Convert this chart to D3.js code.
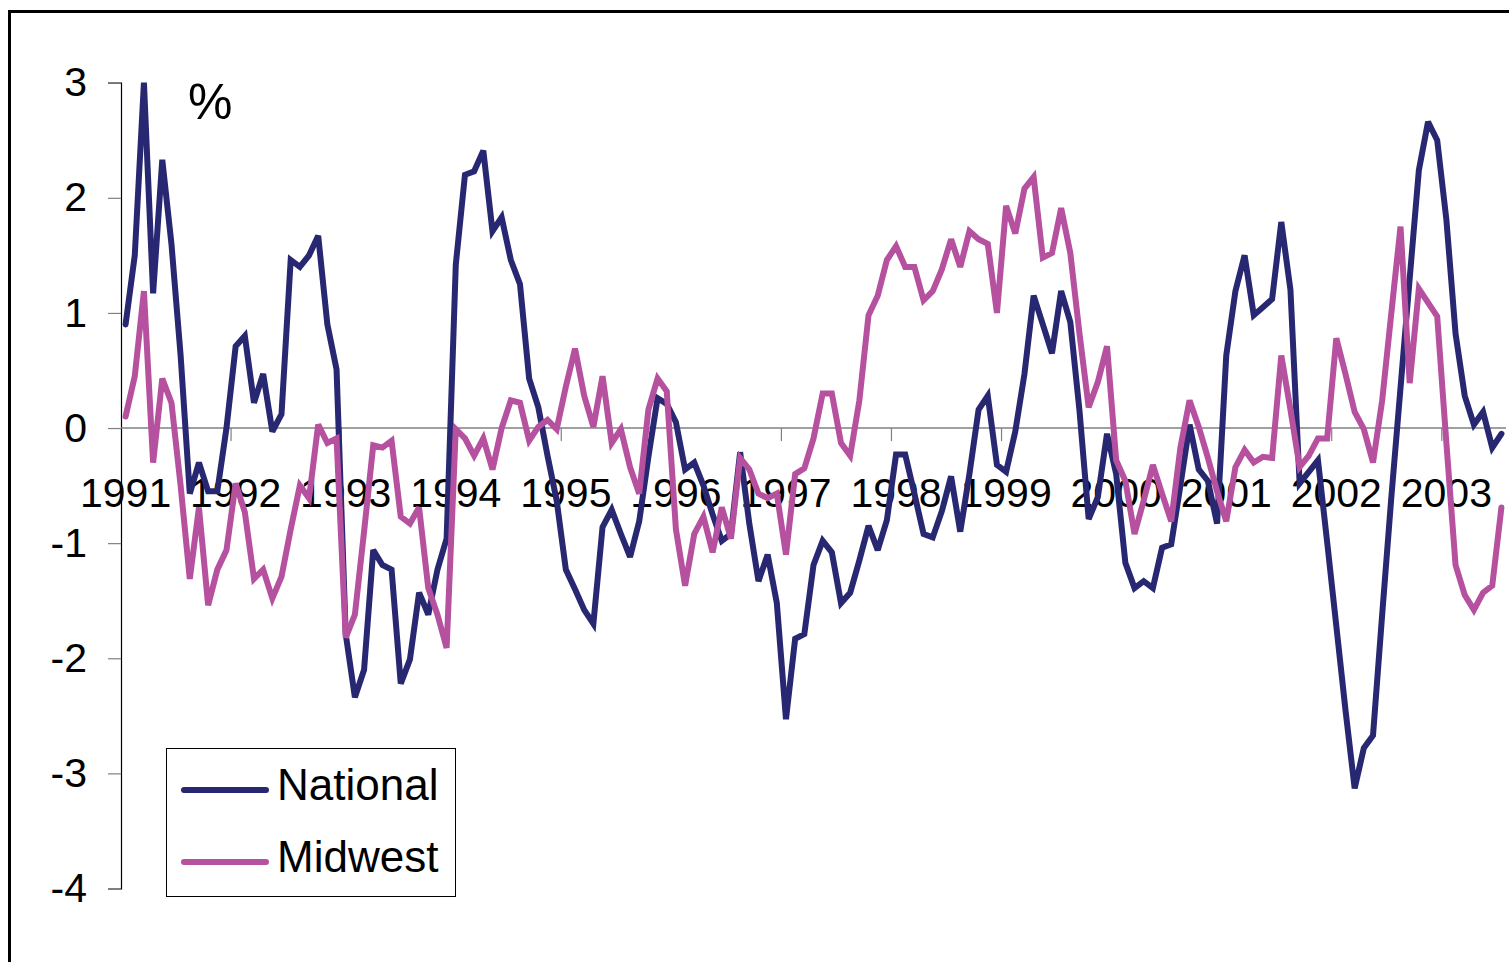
<!DOCTYPE html>
<html>
<head>
<meta charset="utf-8">
<script src="https://cdn.jsdelivr.net/npm/d3@7"></script>
<style>
  html, body { margin: 0; padding: 0; background: #fff; }
  svg { display: block; font-family: "Liberation Sans", Arial, sans-serif; }
</style>
</head>
<body>
<svg id="chart" width="1509" height="962"></svg>
<script>
// Monthly percentage change, January 1991 through July 2003
const yearLabels = ["1991","1992","1993","1994","1995","1996","1997","1998","1999","2000","2001","2002","2003"];
const monthCount = 151;
const months = d3.range(monthCount).map(i => `${1991 + Math.floor(i / 12)}-${String(i % 12 + 1).padStart(2, "0")}`);

const national = [
  0.90, 1.50, 3.00, 1.17, 2.33, 1.60, 0.63, -0.57, -0.30, -0.55, -0.55, 0.00,
  0.71, 0.80, 0.22, 0.47, -0.03, 0.12, 1.46, 1.40, 1.50, 1.67, 0.90, 0.51,
  -1.79, -2.34, -2.10, -1.06, -1.19, -1.23, -2.22, -2.01, -1.43, -1.62, -1.23, -0.96,
  1.42, 2.20, 2.23, 2.41, 1.71, 1.83, 1.46, 1.25, 0.43, 0.18, -0.24, -0.63,
  -1.23, -1.40, -1.58, -1.70, -0.86, -0.71, -0.92, -1.12, -0.81, -0.25, 0.26, 0.21,
  0.05, -0.36, -0.30, -0.50, -0.75, -0.98, -0.92, -0.21, -0.83, -1.33, -1.10, -1.52,
  -2.53, -1.83, -1.79, -1.19, -0.98, -1.08, -1.52, -1.43, -1.15, -0.85, -1.06, -0.80,
  -0.23, -0.23, -0.57, -0.92, -0.95, -0.72, -0.42, -0.90, -0.40, 0.16, 0.28, -0.32,
  -0.38, -0.03, 0.47, 1.15, 0.90, 0.65, 1.19, 0.92, 0.15, -0.79, -0.60, -0.05,
  -0.40, -1.17, -1.39, -1.33, -1.39, -1.04, -1.01, -0.50, 0.03, -0.36, -0.46, -0.83,
  0.63, 1.19, 1.50, 0.98, 1.05, 1.12, 1.79, 1.20, -0.48, -0.38, -0.28, -0.99,
  -1.72, -2.45, -3.13, -2.78, -2.67, -1.62, -0.60, 0.35, 1.30, 2.24, 2.66, 2.50,
  1.81, 0.82, 0.28, 0.03, 0.14, -0.17, -0.05
];

const midwest = [
  0.10, 0.45, 1.19, -0.30, 0.43, 0.22, -0.50, -1.31, -0.69, -1.54, -1.23, -1.06,
  -0.48, -0.73, -1.31, -1.23, -1.48, -1.29, -0.88, -0.50, -0.61, 0.03, -0.13, -0.09,
  -1.82, -1.62, -0.90, -0.15, -0.17, -0.11, -0.77, -0.83, -0.69, -1.39, -1.62, -1.91,
  -0.01, -0.09, -0.24, -0.09, -0.36, 0.00, 0.24, 0.22, -0.11, 0.01, 0.07, -0.01,
  0.36, 0.69, 0.28, 0.01, 0.45, -0.13, -0.01, -0.34, -0.57, 0.16, 0.43, 0.32,
  -0.88, -1.37, -0.92, -0.77, -1.08, -0.69, -0.96, -0.26, -0.36, -0.57, -0.61, -0.57,
  -1.10, -0.40, -0.35, -0.09, 0.30, 0.30, -0.13, -0.24, 0.24, 0.98, 1.15, 1.46,
  1.58, 1.40, 1.40, 1.11, 1.19, 1.38, 1.64, 1.40, 1.71, 1.64, 1.60, 1.00,
  1.93, 1.69, 2.08, 2.18, 1.48, 1.52, 1.91, 1.52, 0.82, 0.18, 0.40, 0.71,
  -0.28, -0.46, -0.92, -0.63, -0.32, -0.57, -0.81, -0.17, 0.24, 0.01, -0.26, -0.55,
  -0.81, -0.34, -0.19, -0.30, -0.25, -0.26, 0.63, 0.16, -0.34, -0.24, -0.09, -0.09,
  0.78, 0.47, 0.14, -0.01, -0.30, 0.24, 1.00, 1.75, 0.39, 1.21, 1.09, 0.97,
  -0.13, -1.19, -1.45, -1.58, -1.43, -1.37, -0.69
];

const yTicks = [3, 2, 1, 0, -1, -2, -3, -4];
const seriesNames = ["National", "Midwest"];
const seriesColors = ["#272871", "#b5519e"];

const svg = d3.select("#chart");

// outer chart frame (runs past the right and bottom edges)
svg.append("rect")
  .attr("x", 9.5).attr("y", 11.5)
  .attr("width", 1540).attr("height", 1000)
  .attr("fill", "#fff").attr("stroke", "#000").attr("stroke-width", 3);

const x = d3.scaleBand().domain(months).range([121, 1506]).paddingInner(0).paddingOuter(0);
const y = d3.scaleLinear().domain([-4, 3]).range([888.5, 82.7]);
const cx = m => x(m) + x.bandwidth() / 2;

// y axis
const yAxis = svg.append("g")
  .attr("transform", "translate(121,0)")
  .call(d3.axisLeft(y).tickValues(yTicks).tickSize(13).tickPadding(21).tickFormat(d3.format("d")));
yAxis.select(".domain").attr("stroke", "#000").attr("stroke-width", 1.2);
yAxis.selectAll(".tick line").attr("stroke", "#808080").attr("stroke-width", 1.2);
yAxis.selectAll(".tick text")
  .attr("font-size", 41).attr("fill", "#000")
  .attr("font-family", "Liberation Sans, Arial, sans-serif")
  .text(d => d < 0 ? "-" + Math.abs(d) : d);

// zero line with year boundary ticks
const y0 = y(0);
svg.append("line")
  .attr("x1", 121).attr("x2", 1506)
  .attr("y1", y0).attr("y2", y0)
  .attr("stroke", "#808080").attr("stroke-width", 1.5);

const boundaries = d3.range(12, monthCount, 12).map(i => x(months[i]));
svg.selectAll(".xtick").data(boundaries).enter().append("line")
  .attr("class", "xtick")
  .attr("x1", d => d).attr("x2", d => d)
  .attr("y1", y0).attr("y2", y0 + 13)
  .attr("stroke", "#808080").attr("stroke-width", 1.2);

// year labels centred on each January
svg.selectAll(".xlabel").data(yearLabels).enter().append("text")
  .attr("class", "xlabel")
  .attr("x", (d, i) => cx(months[i * 12]))
  .attr("y", 507)
  .attr("text-anchor", "middle")
  .attr("font-size", 41)
  .attr("fill", "#000")
  .text(d => d);

// series lines
const line = d3.line()
  .x((d, i) => cx(months[i]))
  .y(d => y(d));

[national, midwest].forEach((values, k) => {
  svg.append("path")
    .datum(values)
    .attr("fill", "none")
    .attr("stroke", seriesColors[k])
    .attr("stroke-width", 6)
    .attr("stroke-linejoin", "miter")
    .attr("stroke-miterlimit", 3)
    .attr("stroke-linecap", "round")
    .attr("d", line);
});

// unit label
svg.append("text")
  .attr("x", 188).attr("y", 119)
  .attr("font-size", 50)
  .attr("fill", "#000")
  .text("%");

// legend
const legend = svg.append("g");
legend.append("rect")
  .attr("x", 166.5).attr("y", 748.5)
  .attr("width", 289).attr("height", 148)
  .attr("fill", "#fff").attr("stroke", "#000").attr("stroke-width", 1);

const legendRows = [785, 857];
seriesNames.forEach((name, k) => {
  legend.append("line")
    .attr("x1", 184).attr("x2", 266)
    .attr("y1", legendRows[k] + 5).attr("y2", legendRows[k] + 5)
    .attr("stroke", seriesColors[k])
    .attr("stroke-width", 6)
    .attr("stroke-linecap", "round");
  legend.append("text")
    .attr("x", 277).attr("y", legendRows[k] + 15)
    .attr("font-size", 44)
    .attr("fill", "#000")
    .text(name);
});
</script>
</body>
</html>
